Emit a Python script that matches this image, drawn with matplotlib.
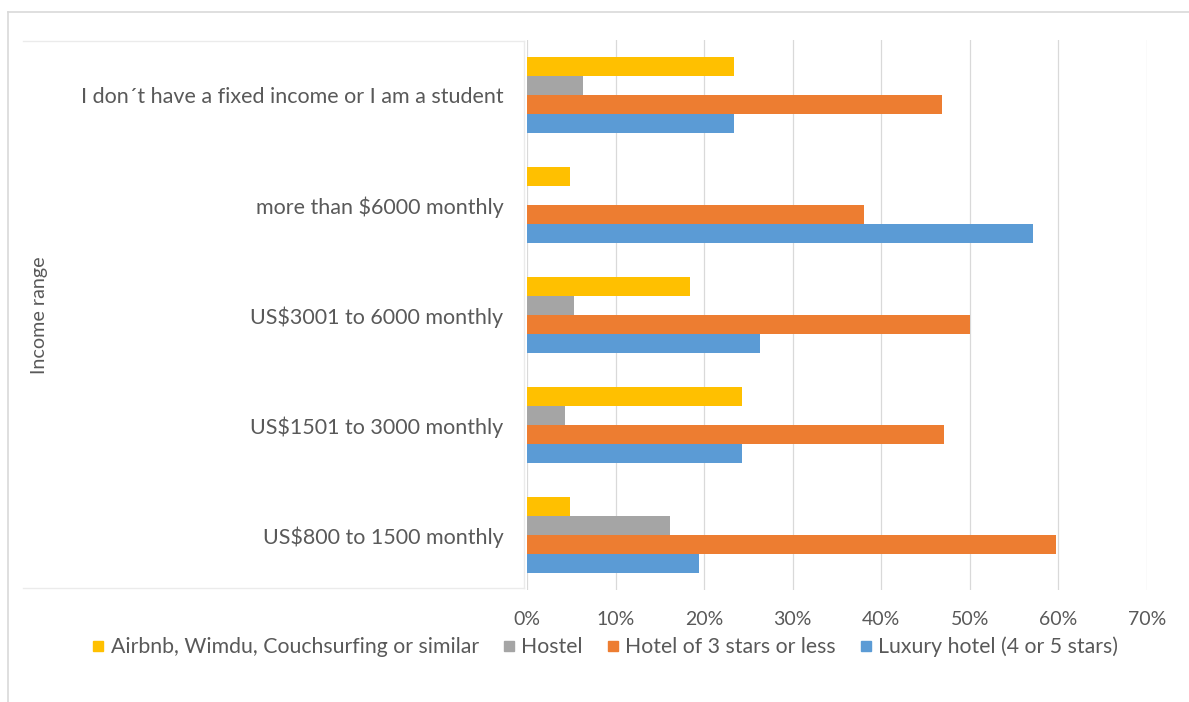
import numpy as np
import matplotlib.pyplot as plt
from matplotlib.lines import Line2D

# income groups, listed bottom to top as drawn
categories = ["US$800 to 1500 monthly",
              "US$1501 to 3000 monthly",
              "US$3001 to 6000 monthly",
              "more than $6000 monthly",
              "I don\u00b4t have a fixed income or I am a student"]

series_names = ["Airbnb, Wimdu, Couchsurfing or similar", "Hostel",
                "Hotel of 3 stars or less", "Luxury hotel (4 or 5 stars)"]

airbnb = [4.8, 24.3, 18.4, 4.8, 23.4]
hostel = [16.1, 4.3, 5.3, 0.0, 6.3]
hotel3 = [59.7, 47.1, 50.0, 38.1, 46.9]
luxury = [19.4, 24.3, 26.3, 57.1, 23.4]

colors = ["#FFC000", "#A5A5A5", "#ED7D31", "#5B9BD5"]
text_col = "#595959"

plt.rcParams['font.family'] = ['Lato', 'DejaVu Sans']

fig = plt.figure(figsize=(11.89, 7.02), dpi=100)
ax = fig.add_axes([527 / 1189, 1 - 590 / 702, 620 / 1189, 550 / 702])

y = np.arange(len(categories))
h = 0.173
offsets = [1.5 * h, 0.5 * h, -0.5 * h, -1.5 * h]
for vals, off, c in zip([airbnb, hostel, hotel3, luxury], offsets, colors):
    ax.barh(y + off, vals, height=h, color=c, zorder=3)

ax.set_xlim(0, 70)
ax.set_ylim(-0.5, len(categories) - 0.5)
ax.set_xticks(np.arange(0, 71, 10))
ax.set_xticklabels([f"{v}%" for v in range(0, 71, 10)])
ax.set_yticks(y)
ax.set_yticklabels(categories, fontsize=15.5)
ax.tick_params(axis='both', length=0, colors=text_col)
ax.tick_params(axis='x', pad=15, labelsize=14)
ax.tick_params(axis='y', pad=17)
ax.grid(axis='x', color="#D9D9D9", linewidth=0.9, zorder=0)
for s in ax.spines.values():
    s.set_visible(False)

fig.text(40 / 1189, 1 - 315 / 702, "Income range", rotation=90,
         ha='center', va='center', color=text_col, fontsize=14.2)

# outer chart border and the box around the category labels
border = "#D9D9D9"
fig.add_artist(Line2D([8 / 1189, 8 / 1189], [0, 1 - 12 / 702], color=border, lw=1.2))
fig.add_artist(Line2D([8 / 1189, 1], [1 - 12 / 702, 1 - 12 / 702], color=border, lw=1.2))
box = "#EBEBEB"
fig.add_artist(Line2D([23 / 1189, 524 / 1189], [1 - 41 / 702, 1 - 41 / 702], color=box, lw=1))
fig.add_artist(Line2D([524 / 1189, 524 / 1189], [1 - 41 / 702, 1 - 588 / 702], color=box, lw=1))
fig.add_artist(Line2D([23 / 1189, 524 / 1189], [1 - 588 / 702, 1 - 588 / 702], color=box, lw=1))

handles = [Line2D([], [], marker='s', linestyle='none', markersize=7,
                  markerfacecolor=c, markeredgecolor=c) for c in colors]
fig.legend(handles, series_names, loc='center', ncol=4,
           bbox_to_anchor=(605 / 1189, 1 - 647 / 702), frameon=False,
           fontsize=15.3, labelcolor=text_col, handletextpad=0.3,
           columnspacing=1.1, handlelength=0.6)

fig.savefig("out.png", dpi=100)
